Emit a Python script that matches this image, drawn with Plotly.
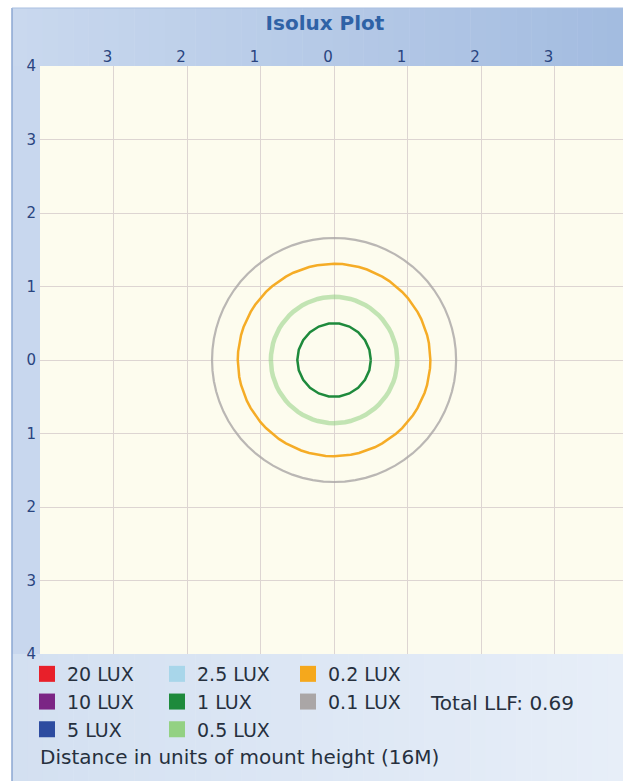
import plotly.graph_objects as go
import numpy as np

# ---- data ----
lux_levels = ["20", "10", "5", "2.5", "1", "0.5", "0.2", "0.1"]
lux_colors = ["#e8202a", "#7b2585", "#2d4ca0", "#a8d6ea", "#1e8a3c", "#93d183", "#f5a81c", "#aaa6a6"]
contour_radius = [None, None, None, None, 0.50, 0.86, 1.31, 1.66]   # mount-height units
contour_sides = [None, None, None, None, 22, 72, 72, 72]
x_tick_vals = [-3, -2, -1, 0, 1, 2, 3]
x_tick_text = ["3", "2", "1", "0", "1", "2", "3"]
y_tick_vals = [-4, -3, -2, -1, 0, 1, 2, 3, 4]
y_tick_text = ["4", "3", "2", "1", "0", "1", "2", "3", "4"]
x_range = [-4.0, 3.93]
y_range = [-4.0, 4.0]
total_llf = "0.69"
mount_height = "16M"

# ---- styles ----
line_width = {"1": 2.5, "0.5": 4.5, "0.2": 2.5, "0.1": 2.2}
line_opacity = {"1": 1.0, "0.5": 0.55, "0.2": 0.95, "0.1": 0.8}

W, H = 623, 781
ML, MR, MT, MB = 40, 0, 66, 127
PW, PH = W - ML - MR, H - MT - MB

fig = go.Figure()

legend_names = ["legend", "legend2", "legend3"]
for i, (lvl, col, r, n) in enumerate(zip(lux_levels, lux_colors, contour_radius, contour_sides)):
    if r is not None:
        t = np.linspace(0, 2 * np.pi, n + 1)
        fig.add_trace(go.Scatter(
            x=r * np.cos(t), y=r * np.sin(t), mode="lines",
            line=dict(color=col, width=line_width[lvl]), opacity=line_opacity[lvl],
            showlegend=False, legendgroup=lvl, hoverinfo="skip"))
    fig.add_trace(go.Scatter(
        x=[None], y=[None], mode="markers", name=f"{lvl} LUX",
        marker=dict(symbol="square", size=16, color=col, line=dict(width=0)),
        legend=legend_names[i // 3], legendgroup=lvl))

# ---- frame decoration (paper coords relative to plot area) ----
def px2x(px):
    return (px - ML) / PW

def py2y(py):
    return (H - MB - py) / PH

def lerp(c1, c2, t):
    a = [int(c1[k:k + 2], 16) for k in (1, 3, 5)]
    b = [int(c2[k:k + 2], 16) for k in (1, 3, 5)]
    return "#%02x%02x%02x" % tuple(round(a[j] + (b[j] - a[j]) * t) for j in range(3))

shapes = []
shapes.append(dict(type="rect", xref="paper", yref="paper", x0=px2x(12), x1=px2x(ML), y0=py2y(8), y1=py2y(H),
                   fillcolor="#c8d7ee", line_width=0, layer="below"))
N = 40
for k in range(N):
    xa = 12 + (W - 12) * k / N
    xb = 12 + (W - 12) * (k + 1) / N + 0.5
    shapes.append(dict(type="rect", xref="paper", yref="paper", x0=px2x(xa), x1=px2x(xb), y0=py2y(8), y1=py2y(MT),
                       fillcolor=lerp("#c9d8ee", "#a3bce0", k / (N - 1)), line_width=0, layer="below"))
for k in range(N):
    xa = 12 + (W - 12) * k / N
    xb = 12 + (W - 12) * (k + 1) / N + 0.5
    shapes.append(dict(type="rect", xref="paper", yref="paper", x0=px2x(xa), x1=px2x(xb), y0=py2y(H - MB), y1=py2y(H),
                       fillcolor=lerp("#d3e0f1", "#e7eef8", k / (N - 1)), line_width=0, layer="below"))
shapes.append(dict(type="line", xref="paper", yref="paper", x0=px2x(12), x1=px2x(12), y0=py2y(8), y1=py2y(H),
                   line=dict(color="#8ba7d2", width=1.5), layer="below"))
shapes.append(dict(type="line", xref="paper", yref="paper", x0=px2x(12), x1=px2x(W), y0=py2y(8), y1=py2y(8),
                   line=dict(color="#a9bfe0", width=1), layer="below"))

axis_font = dict(family="DejaVu Sans", size=15, color="#2a4580")
fig.update_layout(
    width=W, height=H,
    margin=dict(l=ML, r=MR, t=MT, b=MB, pad=0, autoexpand=False),
    paper_bgcolor="white",
    plot_bgcolor="#fdfcee",
    title=dict(text="<b>Isolux Plot</b>", x=325 / W, xref="container", xanchor="center",
               y=1 - 23 / H, yref="container", yanchor="middle",
               font=dict(family="DejaVu Sans", size=20, color="#2f62a6")),
    xaxis=dict(range=x_range, side="top", tickvals=x_tick_vals, ticktext=x_tick_text,
               showgrid=True, gridcolor="#ddd5d2", gridwidth=1, zeroline=False,
               showline=False, ticks="", tickfont=axis_font, ticklabelshift=-6,
               fixedrange=True),
    yaxis=dict(range=y_range, tickvals=y_tick_vals, ticktext=y_tick_text,
               showgrid=True, gridcolor="#ddd5d2", gridwidth=1, zeroline=False,
               showline=False, ticks="", tickfont=axis_font, ticklabelstandoff=3,
               fixedrange=True),
    shapes=shapes,
    showlegend=True,
)

leg_common = dict(xref="container", yref="container", xanchor="left", yanchor="top",
                  bgcolor="rgba(0,0,0,0)", borderwidth=0, itemwidth=30, tracegroupgap=0,
                  traceorder="normal", orientation="v",
                  font=dict(family="DejaVu Sans", size=19, color="#26303e"))
fig.update_layout(
    legend=dict(x=27 / W, y=1 - 655 / H, **leg_common),
    legend2=dict(x=157 / W, y=1 - 655 / H, **leg_common),
    legend3=dict(x=288 / W, y=1 - 655 / H, **leg_common),
)

fig.add_annotation(text=f"Total LLF: {total_llf}", xref="paper", yref="paper",
                   x=px2x(428), y=py2y(703), xanchor="left", yanchor="middle", showarrow=False,
                   font=dict(family="DejaVu Sans", size=20, color="#26303e"))
fig.add_annotation(text=f"Distance in units of mount height ({mount_height})", xref="paper", yref="paper",
                   x=px2x(38), y=py2y(757), xanchor="left", yanchor="middle", showarrow=False,
                   font=dict(family="DejaVu Sans", size=20, color="#26303e"))

fig.write_html("out.html", config={"displayModeBar": False},
               post_script="document.body.style.margin='0';document.body.style.overflow='hidden';")
